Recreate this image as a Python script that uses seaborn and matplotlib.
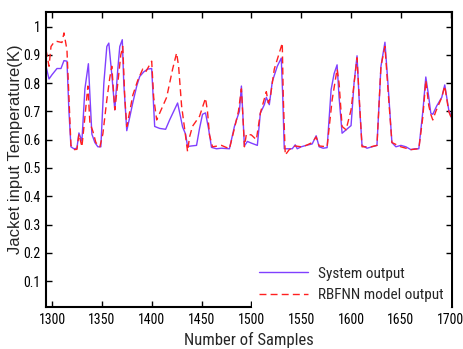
import numpy as np
import pandas as pd
import matplotlib
matplotlib.use("Agg")
import matplotlib.pyplot as plt
import seaborn as sns

sys_x = [1294, 1297, 1300, 1305, 1309, 1312, 1315, 1317, 1319, 1322, 1325, 1327, 1328.5, 1330,
         1333, 1336.5, 1338, 1340, 1343, 1346, 1349, 1352, 1355, 1357, 1360, 1363, 1366, 1368,
         1370.5, 1372, 1375, 1378, 1381, 1385, 1388, 1392, 1396, 1400, 1403, 1408, 1414, 1418,
         1422, 1426, 1429, 1431, 1434, 1436, 1440, 1445, 1448, 1451, 1454, 1457, 1460, 1465,
         1470, 1478, 1483, 1486, 1488, 1490, 1492, 1493, 1496, 1500, 1506, 1509, 1513, 1515,
         1518, 1521, 1526, 1530, 1531.5, 1533, 1538, 1541, 1544, 1546, 1550, 1555, 1561, 1565,
         1568, 1572, 1576, 1580, 1583, 1586, 1588, 1591, 1595, 1600, 1603, 1606, 1608, 1611,
         1616, 1621, 1626, 1630, 1634, 1637, 1641, 1645, 1650, 1655, 1660, 1664, 1668, 1672,
         1675, 1678, 1680, 1682, 1686, 1691, 1694, 1698, 1702]
sys_y = [0.86, 0.815, 0.83, 0.852, 0.852, 0.88, 0.878, 0.70, 0.575, 0.568, 0.57, 0.624, 0.61, 0.595,
         0.78, 0.869, 0.76, 0.62, 0.59, 0.575, 0.575, 0.80, 0.93, 0.942, 0.83, 0.706, 0.85, 0.93,
         0.954, 0.80, 0.632, 0.68, 0.73, 0.79, 0.824, 0.84, 0.85, 0.852, 0.647, 0.64, 0.637, 0.67,
         0.70, 0.73, 0.68, 0.645, 0.62, 0.576, 0.578, 0.58, 0.64, 0.69, 0.695, 0.64, 0.573, 0.568,
         0.57, 0.568, 0.647, 0.68, 0.70, 0.79, 0.65, 0.578, 0.594, 0.588, 0.58, 0.694, 0.724, 0.75,
         0.724, 0.806, 0.86, 0.889, 0.75, 0.568, 0.568, 0.568, 0.582, 0.568, 0.575, 0.58, 0.585, 0.614,
         0.575, 0.57, 0.572, 0.777, 0.834, 0.865, 0.75, 0.623, 0.635, 0.65, 0.80, 0.897, 0.75, 0.58,
         0.57, 0.575, 0.58, 0.86, 0.945, 0.80, 0.59, 0.575, 0.58, 0.575, 0.565, 0.568, 0.568, 0.70,
         0.822, 0.75, 0.694, 0.69, 0.72, 0.75, 0.794, 0.706, 0.665]

rbf_x = [1294, 1297, 1299, 1302, 1305, 1310, 1312, 1315, 1317, 1319, 1322, 1325, 1327, 1330,
         1333, 1336, 1338, 1341, 1344, 1348, 1351, 1355, 1358, 1360, 1363, 1366, 1369, 1371,
         1373, 1375, 1378, 1381, 1386, 1391, 1394, 1400, 1402, 1405, 1410, 1415, 1418, 1421,
         1425, 1427, 1430, 1433, 1436, 1438, 1441, 1448, 1454, 1456, 1458, 1461, 1470, 1478,
         1483, 1487, 1490, 1492, 1493, 1495, 1500, 1505, 1509, 1515, 1517, 1519, 1523, 1528,
         1531, 1532, 1534, 1538, 1544, 1550, 1555, 1561, 1565, 1568, 1576, 1581, 1586, 1588,
         1591, 1595, 1600, 1606, 1609, 1611, 1620, 1626, 1630, 1634, 1637, 1641, 1650, 1660,
         1668, 1672, 1675, 1678, 1680, 1682, 1685, 1691, 1694, 1698, 1702]
rbf_y = [0.918, 0.86, 0.93, 0.945, 0.948, 0.944, 0.978, 0.918, 0.75, 0.58, 0.565, 0.566, 0.62, 0.575,
         0.68, 0.79, 0.66, 0.63, 0.59, 0.575, 0.62, 0.741, 0.82, 0.86, 0.706, 0.80, 0.90, 0.93,
         0.75, 0.647, 0.70, 0.757, 0.81, 0.85, 0.84, 0.878, 0.75, 0.67, 0.71, 0.75, 0.80, 0.85,
         0.907, 0.86, 0.72, 0.64, 0.558, 0.61, 0.648, 0.683, 0.747, 0.70, 0.617, 0.575, 0.58, 0.568,
         0.64, 0.70, 0.78, 0.65, 0.575, 0.62, 0.617, 0.60, 0.694, 0.77, 0.73, 0.75, 0.85, 0.907,
         0.942, 0.75, 0.546, 0.565, 0.578, 0.575, 0.58, 0.59, 0.61, 0.578, 0.575, 0.74, 0.85, 0.80,
         0.647, 0.635, 0.706, 0.89, 0.70, 0.575, 0.575, 0.58, 0.86, 0.93, 0.78, 0.59, 0.575, 0.565,
         0.568, 0.68, 0.81, 0.72, 0.69, 0.67, 0.70, 0.75, 0.79, 0.70, 0.665]

series_names = ["System output", "RBFNN model output"]
x_ticks = [1300, 1350, 1400, 1450, 1500, 1550, 1600, 1650, 1700]
y_ticks = [0.1, 0.2, 0.3, 0.4, 0.5, 0.6, 0.7, 0.8, 0.9, 1.0]
y_tick_labels = ["0.1", "0.2", "0.3", "0.4", "0.5", "0.6", "0.7", "0.8", "0.9", "1"]

df = pd.concat([
    pd.DataFrame({"x": sys_x, "y": sys_y, "series": series_names[0]}),
    pd.DataFrame({"x": rbf_x, "y": rbf_y, "series": series_names[1]}),
], ignore_index=True)

sns.set_style("ticks")
plt.rcParams["font.family"] = ["Roboto Condensed", "Liberation Sans", "DejaVu Sans"]

fig = plt.figure(figsize=(4.63, 3.49), dpi=100)
ax = fig.add_axes([0.0994, 0.1203, 0.8769, 0.8453])

sns.lineplot(data=df, x="x", y="y", hue="series", style="series",
             palette=["#8040ff", "#ff2020"], dashes=["", (5, 3)],
             linewidth=1.0, ax=ax, estimator=None, sort=False)

ax.set_xlim(1294, 1701.3)
ax.set_ylim(0.008, 1.052)
ax.set_xticks(x_ticks)
ax.set_yticks(y_ticks)
ax.set_yticklabels(y_tick_labels)
ax.tick_params(direction="in", top=True, right=True, length=4, width=1.0,
               labelsize=10, colors="black", pad=4)
for s in ax.spines.values():
    s.set_linewidth(1.5)
    s.set_color("black")

ax.set_xlabel("Number of Samples", fontsize=12, labelpad=4)
ax.set_ylabel("Jacket input Temperature(K)", fontsize=12,
              family=["Liberation Sans", "DejaVu Sans"])
ax.yaxis.set_label_coords(-0.057, 0.536)

handles, labels = ax.get_legend_handles_labels()
leg = ax.legend(handles, labels, loc="lower right", bbox_to_anchor=(0.997, -0.01),
                frameon=True, facecolor="white", edgecolor="none", framealpha=1,
                fontsize=11, handlelength=3.2, borderaxespad=0, borderpad=0.5,
                labelspacing=0.5, handletextpad=0.6)
leg.set_zorder(10)

fig.savefig("out.png", dpi=100)
